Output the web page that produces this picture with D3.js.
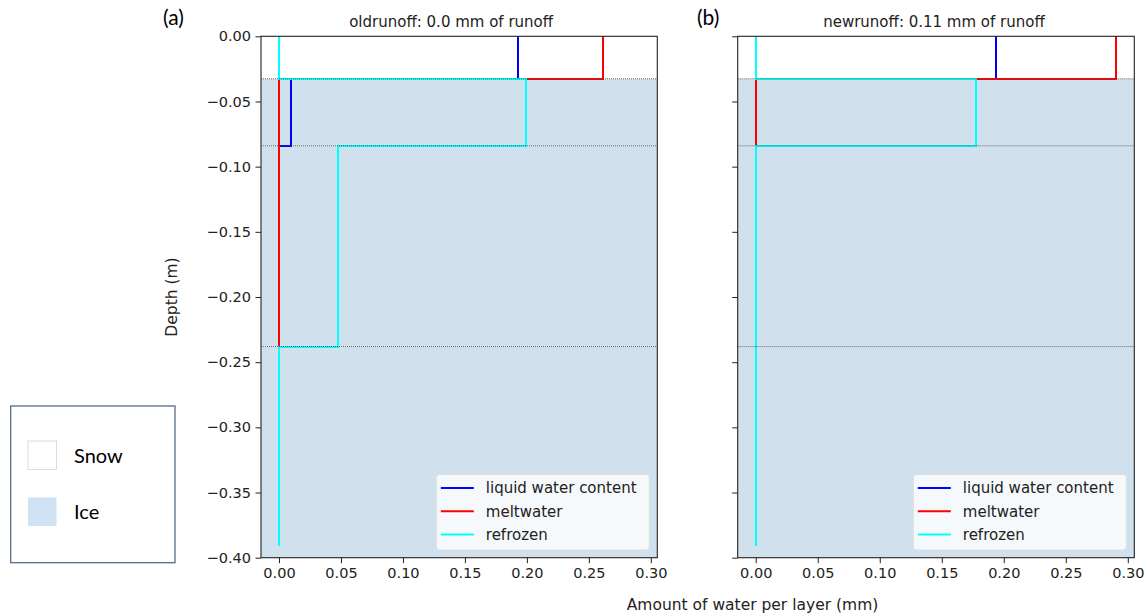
<!DOCTYPE html>
<html>
<head>
<meta charset="utf-8">
<script src="https://cdn.jsdelivr.net/npm/d3@7"></script>
<style>
  body { margin: 0; background: #fff; }
  svg { display: block; font-family: "DejaVu Sans", sans-serif; }
</style>
</head>
<body>
<div id="chart"></div>
<script>
// layer boundaries (m) and what each layer is made of
const depths = [0, -0.0326, -0.084, -0.238, -0.391];
const layerTypes = ['snow', 'ice', 'ice', 'ice'];

// amount of water per layer (mm), one value per layer
const oldLwc = [0.193, 0.0099, 0, 0];
const oldMelt = [0.2617, 0, 0, 0];
const oldRefrozen = [0, 0.1995, 0.0475, 0];

const newLwc = [0.194, 0, 0, 0];
const newMelt = [0.2907, 0, 0, 0];
const newRefrozen = [0, 0.178, 0, 0];

const seriesNames = ['liquid water content', 'meltwater', 'refrozen'];
const panelTitles = ['oldrunoff: 0.0 mm of runoff', 'newrunoff: 0.11 mm of runoff'];
const panelTags = ['(a)', '(b)'];

const xTicks = [0, 0.05, 0.10, 0.15, 0.20, 0.25, 0.30];
const yTicks = [0, -0.05, -0.10, -0.15, -0.20, -0.25, -0.30, -0.35, -0.40];
const yLimits = [-0.40, 0];

const colors = { 'liquid water content': '#0000ff', 'meltwater': '#ff0000', 'refrozen': '#00ffff' };
const iceColor = '#d0e1ed';

const width = 1148;
const height = 616;

const svg = d3.select('#chart')
  .append('svg')
  .attr('width', width)
  .attr('height', height);

// same x limits for both panels, matplotlib style 5% margins
const allVals = [].concat(oldLwc, oldMelt, oldRefrozen, newLwc, newMelt, newRefrozen);
const xMax = d3.max(allVals);
const xPad = xMax * 0.05;

const panels = [
  { left: 261, right: 657.3, titleDx: -8, showY: true, series: [oldLwc, oldMelt, oldRefrozen] },
  { left: 737.7, right: 1134.3, titleDx: -2, showY: false, series: [newLwc, newMelt, newRefrozen] },
];
const plotTop = 36.3;
const plotBottom = 557.7;

const fmt = (v) => d3.format('.2f')(v).replace('-', '\u2212');

panels.forEach((p, pi) => {
  const x = d3.scaleLinear().domain([-xPad, xMax + xPad]).range([p.left, p.right]);
  const y = d3.scaleLinear().domain(yLimits).range([plotBottom, plotTop]);

  const g = svg.append('g');

  const clipId = `clip${pi}`;
  svg.append('clipPath').attr('id', clipId)
    .append('rect')
    .attr('x', p.left).attr('y', plotTop)
    .attr('width', p.right - p.left).attr('height', plotBottom - plotTop);

  const plot = g.append('g').attr('clip-path', `url(#${clipId})`);

  // ice layers filled
  layerTypes.forEach((t, i) => {
    if (t !== 'ice') return;
    const y0 = depths[i];
    const y1 = i === layerTypes.length - 1 ? yLimits[0] : depths[i + 1];
    plot.append('rect')
      .attr('x', p.left)
      .attr('y', y(y0))
      .attr('width', p.right - p.left)
      .attr('height', y(y1) - y(y0))
      .attr('fill', iceColor);
  });

  // step profiles (snapped to whole pixels so overlapping lines stay clean)
  const line = d3.line().x((d) => Math.round(x(d[0]))).y((d) => Math.round(y(d[1])));
  p.series.forEach((vals, si) => {
    const pts = [];
    vals.forEach((v, i) => {
      pts.push([v, depths[i]]);
      pts.push([v, depths[i + 1]]);
    });
    plot.append('path')
      .attr('d', line(pts))
      .attr('fill', 'none')
      .attr('stroke', colors[seriesNames[si]])
      .attr('stroke-width', 2);
  });

  // dotted layer boundaries
  depths.slice(1, -1).forEach((d) => {
    plot.append('line')
      .attr('x1', p.left).attr('x2', p.right)
      .attr('y1', y(d)).attr('y2', y(d))
      .attr('stroke', '#444')
      .attr('stroke-width', 0.8)
      .attr('stroke-dasharray', '1,1');
  });

  // axes
  const xAxis = d3.axisBottom(x).tickValues(xTicks).tickSize(5.5).tickPadding(4.5).tickFormat(fmt);
  const yAxis = d3.axisLeft(y).tickValues(yTicks).tickSize(5.5).tickPadding(4.5)
    .tickFormat(p.showY ? fmt : '');

  const gx = g.append('g').attr('transform', `translate(0,${plotBottom})`).call(xAxis);
  const gy = g.append('g').attr('transform', `translate(${p.left},0)`).call(yAxis);
  [gx, gy].forEach((a) => {
    a.select('.domain').remove();
    a.selectAll('.tick line').attr('stroke', '#222').attr('stroke-width', 1);
    a.selectAll('.tick text')
      .attr('fill', '#222')
      .style('font-family', '"DejaVu Sans", sans-serif')
      .style('font-size', '14.5px');
  });

  // spines
  g.append('rect')
    .attr('x', p.left).attr('y', plotTop)
    .attr('width', p.right - p.left).attr('height', plotBottom - plotTop)
    .attr('fill', 'none')
    .attr('stroke', '#222')
    .attr('stroke-width', 1.1);

  // title and panel tag
  g.append('text')
    .attr('x', (p.left + p.right) / 2 + p.titleDx)
    .attr('y', 26.5)
    .attr('text-anchor', 'middle')
    .attr('fill', '#222')
    .style('font-size', '15px')
    .text(panelTitles[pi]);

  g.append('text')
    .attr('x', pi === 0 ? 163 : 697)
    .attr('y', 25)
    .style('font-family', 'Lato, "Open Sans", sans-serif')
    .style('font-size', '21px')
    .attr('fill', '#000')
    .text(panelTags[pi]);

  // legend
  const lgW = 213;
  const lgH = 75.5;
  const lgX = p.right - 8 - lgW;
  const lgY = plotBottom - 7.7 - lgH;
  const lg = g.append('g').attr('transform', `translate(${lgX},${lgY})`);
  lg.append('rect')
    .attr('width', lgW).attr('height', lgH)
    .attr('rx', 3)
    .attr('fill', '#f6f9fb')
    .attr('stroke', '#dcdfe2')
    .attr('stroke-width', 1);
  seriesNames.forEach((name, i) => {
    const cy = 13.5 + i * 23.3;
    lg.append('line')
      .attr('x1', 4.5).attr('x2', 37.5)
      .attr('y1', cy).attr('y2', cy)
      .attr('stroke', colors[name])
      .attr('stroke-width', 2);
    lg.append('text')
      .attr('x', 49.5)
      .attr('y', cy)
      .attr('dy', '0.35em')
      .attr('fill', '#222')
      .style('font-size', '15px')
      .text(name);
  });
});

// axis labels
svg.append('text')
  .attr('x', 752.5)
  .attr('y', 610)
  .attr('text-anchor', 'middle')
  .attr('fill', '#222')
  .style('font-size', '15.5px')
  .text('Amount of water per layer (mm)');

svg.append('text')
  .attr('transform', `translate(177,${(plotTop + plotBottom) / 2}) rotate(-90)`)
  .attr('text-anchor', 'middle')
  .attr('fill', '#222')
  .style('font-size', '15.5px')
  .text('Depth (m)');

// snow / ice key box
const key = svg.append('g');
key.append('rect')
  .attr('x', 10.7).attr('y', 406)
  .attr('width', 164.3).attr('height', 156.7)
  .attr('fill', '#fff')
  .attr('stroke', '#556b8d')
  .attr('stroke-width', 1.3);

const keyItems = ['Snow', 'Ice'];
keyItems.forEach((k, i) => {
  const sy = 441 + i * 56.5;
  key.append('rect')
    .attr('x', 28).attr('y', sy)
    .attr('width', 28.5).attr('height', 28.5)
    .attr('fill', k === 'Ice' ? '#cfe2f3' : '#fff')
    .attr('stroke', k === 'Ice' ? 'none' : '#dcdcdc')
    .attr('stroke-width', 1);
  key.append('text')
    .attr('x', 74)
    .attr('y', sy + 14.5)
    .attr('dy', '0.35em')
    .attr('fill', '#000')
    .style('font-family', 'Lato, "Open Sans", sans-serif')
    .style('font-size', '20px')
    .text(k);
});
</script>
</body>
</html>
